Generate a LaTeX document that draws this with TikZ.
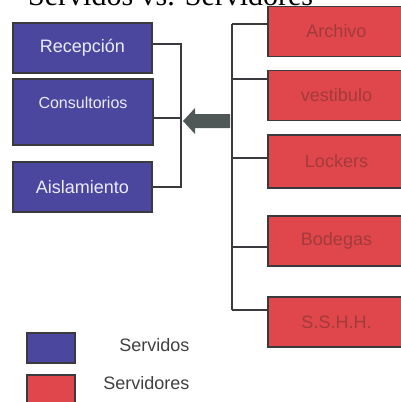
\documentclass[tikz,border=0pt]{standalone}
\usepackage{fontspec}
\setmainfont{Liberation Sans}
\newfontfamily\titlefont{Liberation Serif}
\usepackage{tikz}
\usetikzlibrary{calc}

\definecolor{servblue}{HTML}{4C479E}
\definecolor{servred}{HTML}{E0474C}
\definecolor{redtext}{HTML}{A33A3A}
\definecolor{boxline}{HTML}{3A3A3E}
\definecolor{arrowgray}{HTML}{4F5857}

\tikzset{
  servido/.style={draw=boxline,line width=1.4pt,fill=servblue,text=white!92!blue,
    inner sep=0pt,outer sep=0pt,minimum width=139pt,minimum height=50pt,
    font=\fontsize{18}{20}\selectfont},
  servidor/.style={draw=boxline,line width=1.4pt,fill=servred,text=redtext,
    inner sep=0pt,outer sep=0pt,minimum width=137pt,minimum height=50pt,
    font=\fontsize{18}{20}\selectfont},
  conector/.style={draw=boxline,line width=1.4pt},
  leyenda/.style={anchor=east,text=black!75,font=\fontsize{18}{20}\selectfont}
}

\begin{document}
\begin{tikzpicture}[x=1pt,y=-1pt]
            \useasboundingbox (0,0) rectangle (401,402);
            \node[anchor=base west,inner sep=0pt,font=\titlefont\fontsize{30}{32}\selectfont] (titulo) at (28,5) {Servidos vs. Servidores};

            % servidos
            \node[servido] (recepcion) at (82.5,48) {Recepción};
            \node[servido,minimum width=140pt,minimum height=66pt,text height=12pt,text depth=20pt,
                  font=\fontsize{16}{18}\selectfont] (consultorios) at (83,112) {Consultorios};
            \node[servido] (aislamiento) at (82.5,187) {Aislamiento};

            % servidores
            \node[servidor] (archivo) at (336.5,31.5) {Archivo};
            \node[servidor] (vestibulo) at (336.5,95.5) {vestibulo};
            \node[servidor,minimum height=53pt] (lockers) at (336.5,161.5) {Lockers};
            \node[servidor] (bodegas) at (336.5,241) {Bodegas};
            \node[servidor] (sshh) at (336.5,322) {S.S.H.H.};

            \coordinate (ltop) at (181,44);
            \coordinate (lbot) at (181,187);
            \coordinate (rtop) at (232,24);
            \coordinate (rbot) at (232,310);

            \draw[conector] ([yshift=4pt]recepcion.east) -- (ltop) -- (lbot) -- (aislamiento.east);
            \draw[conector] ([yshift=-6pt]consultorios.east) -- ([yshift=-6pt]consultorios.east -| ltop);

            \draw[conector] (rtop) -- (rbot);
            \foreach \n/\y in {archivo/24,vestibulo/79,lockers/158,bodegas/247,sshh/310}
              \draw[conector] (\n.west |- 0,\y) -- (rtop |- 0,\y);

            % flecha
            \fill[arrowgray] (183,121) -- (195,108) -- (195,114) -- (230,114) -- (230,128)
                             -- (195,128) -- (195,134) -- cycle;

            % leyenda
            \node[servido,minimum width=48pt,minimum height=30pt] (leg1) at (51,348) {};
            \node[servidor,minimum width=48pt,minimum height=34pt] (leg2) at (51,392) {};
            \node[leyenda] (servidos) at (193,345) {Servidos};
            \node[leyenda] (servidores) at (193,383) {Servidores};
          \end{tikzpicture}
\end{document}
